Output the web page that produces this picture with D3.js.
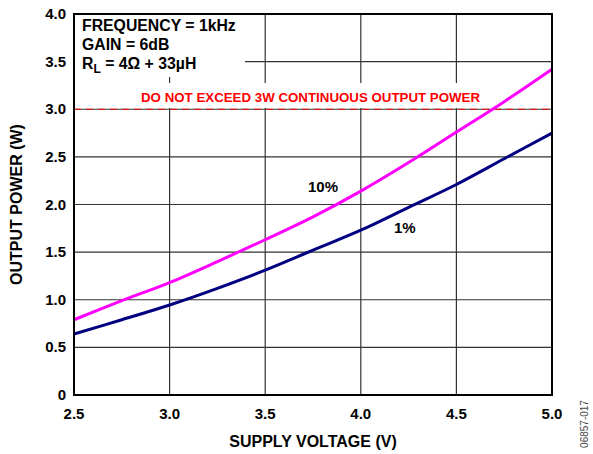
<!DOCTYPE html>
<html>
<head>
<meta charset="utf-8">
<script src="https://cdn.jsdelivr.net/npm/d3@7"></script>
<style>
  body { margin: 0; background: #fff; }
  text { font-family: "Liberation Sans", Arial, sans-serif; font-weight: bold; }
</style>
</head>
<body>
<script>
// data (supply voltage in V, output power in W)
var voltage = [2.5, 2.75, 3.0, 3.25, 3.5, 3.75, 4.0, 4.25, 4.5, 4.75, 5.0];
var thd10 = [0.79, 0.99, 1.18, 1.40, 1.63, 1.87, 2.14, 2.44, 2.76, 3.08, 3.42];
var thd1 = [0.64, 0.79, 0.945, 1.12, 1.31, 1.52, 1.73, 1.97, 2.21, 2.48, 2.75];
var xTicks = [2.5, 3.0, 3.5, 4.0, 4.5, 5.0];
var yTicks = [0, 0.5, 1.0, 1.5, 2.0, 2.5, 3.0, 3.5, 4.0];
var limit = 3.0;

var margin = {top: 14, right: 41, bottom: 59, left: 74},
    width = 593 - margin.left - margin.right,
    height = 454 - margin.top - margin.bottom;

var x = d3.scaleLinear().domain([2.5, 5.0]).range([0, width]);
var y = d3.scaleLinear().domain([0, 4.0]).range([height, 0]);

var svg = d3.select("body").append("svg")
    .attr("width", 593)
    .attr("height", 454);

var g = svg.append("g")
    .attr("transform", "translate(" + margin.left + "," + margin.top + ")");

// grid
g.append("g").selectAll("line").data(xTicks).enter().append("line")
    .attr("x1", function(d) { return x(d); }).attr("x2", function(d) { return x(d); })
    .attr("y1", 0).attr("y2", height)
    .style("stroke", "#333").style("stroke-width", 1.2);
g.append("g").selectAll("line").data(yTicks).enter().append("line")
    .attr("y1", function(d) { return y(d); }).attr("y2", function(d) { return y(d); })
    .attr("x1", 0).attr("x2", width)
    .style("stroke", "#333").style("stroke-width", 1.2);

// white patches behind the notes
g.append("rect").attr("x", 0).attr("y", 0).attr("width", 171).attr("height", 63).style("fill", "#fff");
g.append("rect").attr("x", 62).attr("y", 69).attr("width", 355).attr("height", 25).style("fill", "#fff");

// limit line
g.append("line")
    .attr("x1", 0).attr("x2", width)
    .attr("y1", y(limit)).attr("y2", y(limit))
    .style("stroke", "#ff0000").style("stroke-width", 1.2)
    .style("stroke-dasharray", "7,5");

g.append("text")
    .attr("x", 67).attr("y", y(limit) - 7)
    .style("fill", "#ff0000").style("font-size", "13.3px")
    .text("DO NOT EXCEED 3W CONTINUOUS OUTPUT POWER");

// curves
var line = d3.line()
    .x(function(d) { return x(d[0]); })
    .y(function(d) { return y(d[1]); })
    .curve(d3.curveCatmullRom);

g.append("path").attr("d", line(d3.zip(voltage, thd10)))
    .style("fill", "none").style("stroke", "#ff00ff").style("stroke-width", 3);
g.append("path").attr("d", line(d3.zip(voltage, thd1)))
    .style("fill", "none").style("stroke", "#000080").style("stroke-width", 3);

g.append("text").attr("x", 234).attr("y", 178).style("font-size", "15px").text("10%");
g.append("text").attr("x", 320).attr("y", 219).style("font-size", "15px").text("1%");

// frame
g.append("rect").attr("width", width).attr("height", height)
    .style("fill", "none").style("stroke", "#000").style("stroke-width", 2);

// notes
var note = g.append("text").style("font-size", "15.8px");
note.append("tspan").attr("x", 8).attr("y", 17).text("FREQUENCY = 1kHz");
note.append("tspan").attr("x", 8).attr("y", 36).text("GAIN = 6dB");
var rl = g.append("text").attr("x", 8).attr("y", 55).style("font-size", "15.8px");
rl.append("tspan").text("R");
rl.append("tspan").attr("dy", 4).style("font-size", "12px").text("L");
rl.append("tspan").attr("dy", -4).text(" = 4\u03A9 + 33\u00B5H");

// axes labels
g.append("g").selectAll("text").data(xTicks).enter().append("text")
    .attr("x", function(d) { return x(d); })
    .attr("y", height + 24)
    .style("text-anchor", "middle").style("font-size", "15px")
    .text(function(d) { return d.toFixed(1); });

g.append("g").selectAll("text").data(yTicks).enter().append("text")
    .attr("x", -8)
    .attr("y", function(d) { return y(d) + 5; })
    .style("text-anchor", "end").style("font-size", "15px")
    .text(function(d) { return d === 0 ? "0" : d.toFixed(1); });

g.append("text")      // x-axis title
    .attr("x", width / 2)
    .attr("y", height + 52)
    .style("text-anchor", "middle").style("font-size", "16px")
    .text("SUPPLY VOLTAGE (V)");

g.append("text")      // y-axis title
    .attr("transform", "rotate(-90)")
    .attr("x", -height / 2)
    .attr("y", -52)
    .style("text-anchor", "middle").style("font-size", "16px")
    .text("OUTPUT POWER (W)");

svg.append("text")
    .attr("transform", "translate(588,424) rotate(-90)")
    .style("text-anchor", "middle").style("font-size", "10px")
    .style("font-weight", "normal").style("fill", "#444")
    .text("06857-017");
</script>
</body>
</html>
